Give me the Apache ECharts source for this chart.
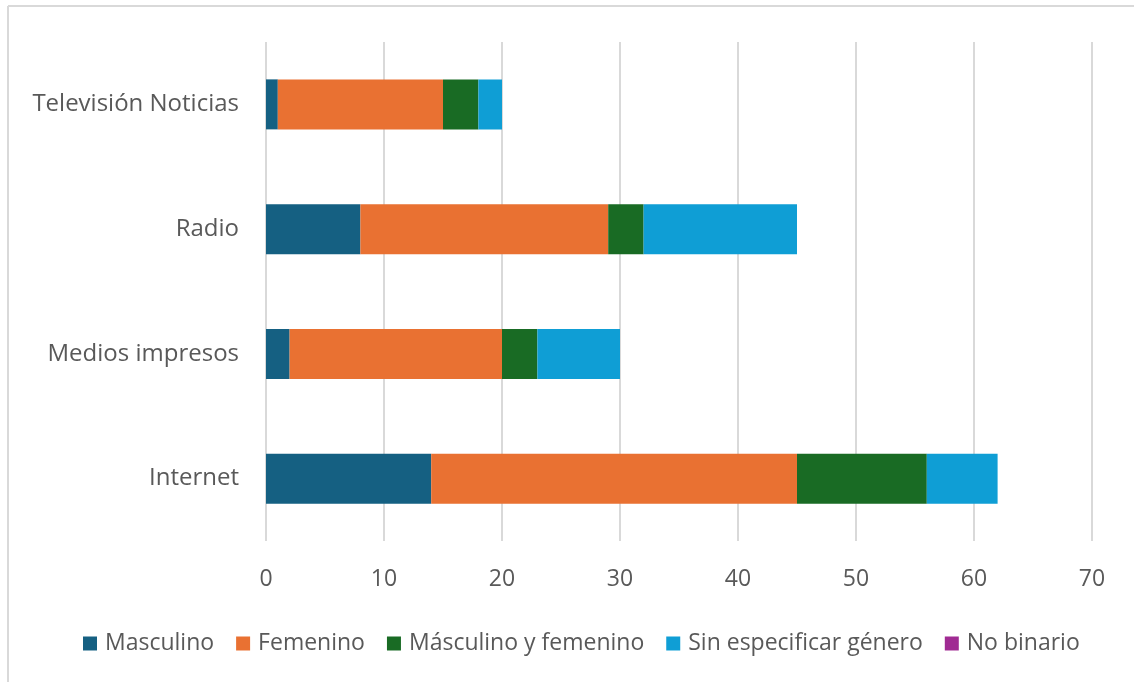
<!DOCTYPE html>
<html><head><meta charset="utf-8">
<script src="https://cdn.jsdelivr.net/npm/echarts@6/dist/echarts.min.js"></script>
<style>html,body{margin:0;padding:0;background:#fff}#c{width:1134px;height:682px}</style>
</head><body><div id="c"></div>
<script>
const categories = ['Internet', 'Medios impresos', 'Radio', 'Televisión Noticias'];
const masculino = [14, 2, 8, 1];
const femenino = [31, 18, 21, 14];
const mascFem = [11, 3, 3, 3];
const sinEspecificar = [6, 7, 13, 2];
const noBinario = [0, 0, 0, 0];
const seriesNames = ['Masculino', 'Femenino', 'Másculino y femenino', 'Sin especificar género', 'No binario'];
const seriesData = [masculino, femenino, mascFem, sinEspecificar, noBinario];
const colors = ['#156082', '#E97132', '#196B24', '#0F9ED5', '#A02B93'];
const font = '"Open Sans", sans-serif';
const chart = echarts.init(document.getElementById('c'));
chart.setOption({
  animation: false,
  color: colors,
  grid: {left: 266, right: 42, top: 42, bottom: 141},
  graphic: [
    {type: 'line', shape: {x1: 8, y1: 6, x2: 1134, y2: 6}, style: {stroke: '#d9d9d9', lineWidth: 2}},
    {type: 'line', shape: {x1: 8, y1: 6, x2: 8, y2: 682}, style: {stroke: '#d9d9d9', lineWidth: 2}}
  ],
  legend: {
    top: 627, left: 78, itemWidth: 14, itemHeight: 14, itemGap: 22,
    icon: 'rect',
    textStyle: {fontSize: 23, color: '#595959', fontFamily: font, padding: [0, 0, 0, 3]},
    data: seriesNames
  },
  xAxis: {
    type: 'value', min: 0, max: 70, interval: 10,
    axisLine: {show: false}, axisTick: {show: false},
    splitLine: {lineStyle: {color: '#d9d9d9', width: 2}},
    axisLabel: {fontSize: 23, color: '#595959', fontFamily: font, margin: 27}
  },
  yAxis: {
    type: 'category', data: categories,
    axisLine: {show: false}, axisTick: {show: false},
    axisLabel: {fontSize: 24, color: '#595959', fontFamily: font, margin: 27}
  },
  series: seriesNames.map((n, i) => ({
    name: n, type: 'bar', stack: 'total', data: seriesData[i], barWidth: 50
  }))
});
</script></body></html>
